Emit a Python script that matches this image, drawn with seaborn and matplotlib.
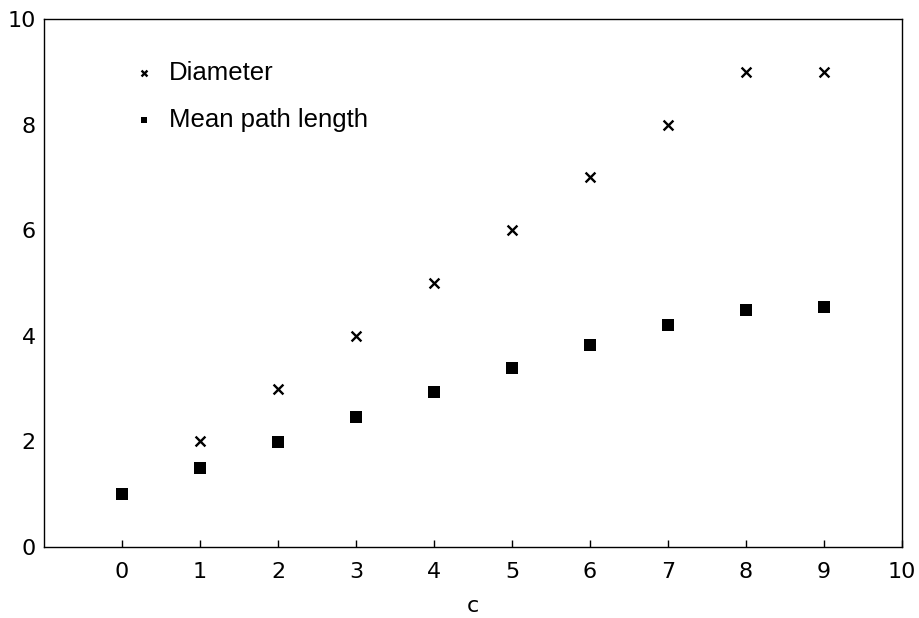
import matplotlib
matplotlib.use("Agg")
import matplotlib.pyplot as plt
import seaborn as sns
import pandas as pd

c_diam = [1, 2, 3, 4, 5, 6, 7, 8, 9]
diameter = [2, 3, 4, 5, 6, 7, 8, 9, 9]
c_mpl = [0, 1, 2, 3, 4, 5, 6, 7, 8, 9]
mean_path = [1.0, 1.5, 1.99, 2.46, 2.93, 3.39, 3.82, 4.2, 4.48, 4.54]
x_ticks = [0, 1, 2, 3, 4, 5, 6, 7, 8, 9, 10]
y_ticks = [0, 2, 4, 6, 8, 10]

sns.set_theme(style="white")
plt.rcParams['font.family'] = ['DejaVu Sans']

fig = plt.figure(figsize=(9.19, 6.18), dpi=100)
ax = fig.add_axes([44/919, 1-547/618, (902-44)/919, (547-19)/618])

df_d = pd.DataFrame({"c": c_diam, "v": diameter})
df_m = pd.DataFrame({"c": c_mpl, "v": mean_path})

sns.scatterplot(data=df_d, x="c", y="v", marker="x", color="black", s=50,
                linewidth=1.7, label="Diameter", ax=ax)
sns.scatterplot(data=df_m, x="c", y="v", marker="s", color="black", s=64,
                linewidth=0, label="Mean path length", ax=ax)

ax.set_xlim(-1, 10)
ax.set_ylim(0, 10)
ax.set_xticks(x_ticks)
ax.set_yticks(y_ticks)
ax.set_xlabel("c", fontsize=16, labelpad=10, color="black")
ax.set_ylabel("")
ax.tick_params(axis="x", direction="in", length=5, width=1, color="black",
               labelsize=16, pad=11, top=False, bottom=True)
ax.tick_params(axis="y", length=0, labelsize=16, pad=6)
for lbl in ax.get_xticklabels() + ax.get_yticklabels():
    lbl.set_color("black")
for s in ax.spines.values():
    s.set_visible(True)
    s.set_color("black")
    s.set_linewidth(1)
ax.grid(False)

leg = ax.legend(loc="upper left", bbox_to_anchor=(0.09, 0.94), frameon=False,
                markerscale=0.6, handlelength=1.0, handletextpad=0.45,
                labelspacing=0.9, borderaxespad=0,
                prop={"family": "Liberation Sans", "size": 18.5})
for t in leg.get_texts():
    t.set_color("black")

fig.savefig("out.png", dpi=100)
